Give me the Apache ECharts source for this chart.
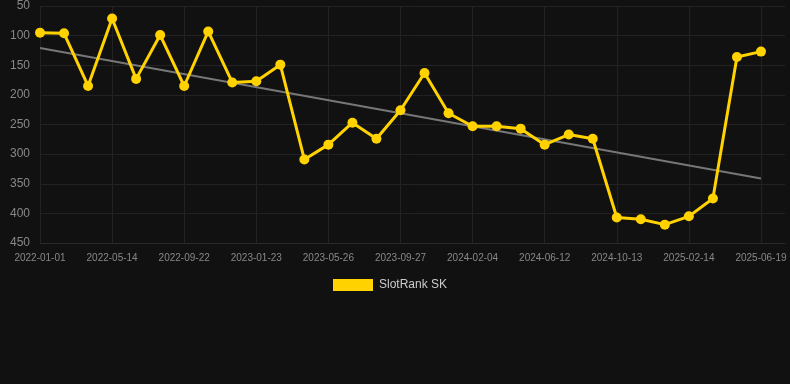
<!DOCTYPE html>
<html>
<head>
<meta charset="utf-8">
<script src="https://cdn.jsdelivr.net/npm/echarts@6/dist/echarts.min.js"></script>
<style>
html,body{margin:0;padding:0;background:#111111;}
#chart{width:790px;height:384px;}
</style>
</head>
<body>
<div id="chart"></div>
<script>
var categories = [
  '2022-01-01','2022-02-14','2022-03-30','2022-05-14','2022-06-27','2022-08-09',
  '2022-09-22','2022-11-02','2022-12-13','2023-01-23','2023-03-05','2023-04-15',
  '2023-05-26','2023-07-07','2023-08-17','2023-09-27','2023-11-09','2023-12-23',
  '2024-02-04','2024-03-18','2024-04-30','2024-06-12','2024-07-23','2024-09-02',
  '2024-10-13','2024-11-24','2025-01-04','2025-02-14','2025-03-28','2025-05-09',
  '2025-06-19'
];
var rankValues = [
  95, 96, 185, 71, 173, 99, 185, 93, 179, 177, 149, 309,
  284, 247, 274, 226, 163, 231, 253, 253, 257, 284, 267, 274,
  407, 410, 419, 405, 375, 136, 127
];
var trendStart = 121;
var trendEnd = 341;
var yTicks = { min: 50, max: 450, interval: 50 };

var trendData = categories.map(function (c, i) {
  if (i === 0) return trendStart;
  if (i === categories.length - 1) return trendEnd;
  return null;
});

var chart = echarts.init(document.getElementById('chart'), null, { renderer: 'canvas' });
chart.setOption({
  backgroundColor: '#111111',
  animation: false,
  grid: { left: 40, right: 5, top: 5, bottom: 141, containLabel: false },
  legend: {
    data: ['SlotRank SK'],
    top: 274,
    left: 328,
    itemWidth: 40,
    itemHeight: 12,
    itemGap: 10,
    icon: 'rect',
    textStyle: { color: '#cccccc', fontSize: 12, fontFamily: 'Liberation Sans, Arial, sans-serif', padding: [0, 0, 0, 1] }
  },
  xAxis: {
    type: 'category',
    data: categories,
    boundaryGap: false,
    max: categories.length,
    axisLine: { show: true, lineStyle: { color: '#2a2a2a' } },
    axisTick: { show: false },
    axisLabel: {
      interval: 2,
      color: '#888888',
      fontSize: 10,
      margin: 10,
      fontFamily: 'Liberation Sans, Arial, sans-serif',
      formatter: function (v) { return v || ''; }
    },
    splitLine: { show: true, interval: 2, lineStyle: { color: '#222222', width: 1 } }
  },
  yAxis: {
    type: 'value',
    inverse: true,
    min: yTicks.min,
    max: yTicks.max,
    interval: yTicks.interval,
    axisLine: { show: false },
    axisTick: { show: false },
    axisLabel: {
      color: '#888888',
      fontSize: 12,
      margin: 10,
      fontFamily: 'Liberation Sans, Arial, sans-serif'
    },
    splitLine: { show: true, lineStyle: { color: '#222222', width: 1 } }
  },
  series: [
    {
      name: 'Trend',
      type: 'line',
      data: trendData,
      connectNulls: true,
      symbol: 'none',
      lineStyle: { color: '#777777', width: 2 },
      z: 1
    },
    {
      name: 'SlotRank SK',
      type: 'line',
      data: rankValues,
      symbol: 'circle',
      symbolSize: 10,
      itemStyle: { color: '#FFD200' },
      lineStyle: { color: '#FFD200', width: 3 },
      z: 2
    }
  ]
});
</script>
</body>
</html>
